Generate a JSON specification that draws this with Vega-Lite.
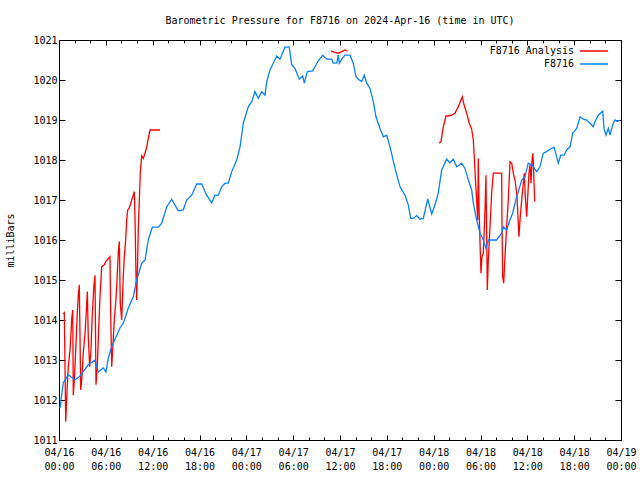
{
  "$schema": "https://vega.github.io/schema/vega-lite/v6.json",
  "autosize": {"type": "none"},
  "padding": {"left": 59, "top": 40, "right": 19, "bottom": 40},
  "width": 562,
  "height": 400,
  "background": "white",
  "title": {
    "text": "Barometric Pressure for F8716 on 2024-Apr-16 (time in UTC)",
    "font": "DejaVu Sans Mono",
    "fontSize": 10,
    "fontWeight": "normal",
    "color": "black",
    "anchor": "middle",
    "offset": 9
  },
  "config": {
    "view": {"stroke": "black", "strokeWidth": 1},
    "axis": {
      "labelFont": "DejaVu Sans Mono",
      "labelFontSize": 10,
      "labelColor": "black",
      "titleFont": "DejaVu Sans Mono",
      "titleFontSize": 10,
      "titleFontWeight": "normal",
      "titleColor": "black",
      "domainColor": "black",
      "tickColor": "black",
      "grid": false
    },
    "legend": {
      "labelFont": "DejaVu Sans Mono",
      "labelFontSize": 10,
      "labelColor": "black"
    }
  },
  "data": {
    "values": [
      {"s":"F8716 Analysis","g":1,"h":0.55,"p":1014.15},
      {"s":"F8716 Analysis","g":1,"h":0.68,"p":1014.18},
      {"s":"F8716 Analysis","g":1,"h":0.77,"p":1012.83},
      {"s":"F8716 Analysis","g":1,"h":0.86,"p":1011.46},
      {"s":"F8716 Analysis","g":1,"h":0.99,"p":1012.08},
      {"s":"F8716 Analysis","g":1,"h":1.19,"p":1012.83},
      {"s":"F8716 Analysis","g":1,"h":1.41,"p":1013.25},
      {"s":"F8716 Analysis","g":1,"h":1.54,"p":1013.67},
      {"s":"F8716 Analysis","g":1,"h":1.63,"p":1014.04},
      {"s":"F8716 Analysis","g":1,"h":1.76,"p":1014.25},
      {"s":"F8716 Analysis","g":1,"h":1.83,"p":1012.12},
      {"s":"F8716 Analysis","g":1,"h":1.96,"p":1012.5},
      {"s":"F8716 Analysis","g":1,"h":2.14,"p":1013.25},
      {"s":"F8716 Analysis","g":1,"h":2.34,"p":1014.17},
      {"s":"F8716 Analysis","g":1,"h":2.47,"p":1014.62},
      {"s":"F8716 Analysis","g":1,"h":2.6,"p":1014.88},
      {"s":"F8716 Analysis","g":1,"h":2.78,"p":1012.25},
      {"s":"F8716 Analysis","g":1,"h":2.91,"p":1012.5},
      {"s":"F8716 Analysis","g":1,"h":3.11,"p":1013.17},
      {"s":"F8716 Analysis","g":1,"h":3.33,"p":1013.67},
      {"s":"F8716 Analysis","g":1,"h":3.46,"p":1014.08},
      {"s":"F8716 Analysis","g":1,"h":3.63,"p":1014.71},
      {"s":"F8716 Analysis","g":1,"h":3.75,"p":1013.58},
      {"s":"F8716 Analysis","g":1,"h":3.93,"p":1012.83},
      {"s":"F8716 Analysis","g":1,"h":4.1,"p":1013.25},
      {"s":"F8716 Analysis","g":1,"h":4.27,"p":1014.17},
      {"s":"F8716 Analysis","g":1,"h":4.48,"p":1014.88},
      {"s":"F8716 Analysis","g":1,"h":4.61,"p":1015.12},
      {"s":"F8716 Analysis","g":1,"h":4.74,"p":1012.38},
      {"s":"F8716 Analysis","g":1,"h":4.91,"p":1012.83},
      {"s":"F8716 Analysis","g":1,"h":5.03,"p":1013.5},
      {"s":"F8716 Analysis","g":1,"h":5.25,"p":1014.58},
      {"s":"F8716 Analysis","g":1,"h":5.47,"p":1015.33},
      {"s":"F8716 Analysis","g":1,"h":5.8,"p":1015.38},
      {"s":"F8716 Analysis","g":1,"h":5.98,"p":1015.46},
      {"s":"F8716 Analysis","g":1,"h":6.53,"p":1015.58},
      {"s":"F8716 Analysis","g":1,"h":6.62,"p":1014.21},
      {"s":"F8716 Analysis","g":1,"h":6.75,"p":1012.83},
      {"s":"F8716 Analysis","g":1,"h":6.88,"p":1013.25},
      {"s":"F8716 Analysis","g":1,"h":7.08,"p":1014.0},
      {"s":"F8716 Analysis","g":1,"h":7.26,"p":1014.42},
      {"s":"F8716 Analysis","g":1,"h":7.39,"p":1014.83},
      {"s":"F8716 Analysis","g":1,"h":7.6,"p":1015.71},
      {"s":"F8716 Analysis","g":1,"h":7.73,"p":1015.96},
      {"s":"F8716 Analysis","g":1,"h":7.85,"p":1014.42},
      {"s":"F8716 Analysis","g":1,"h":8.03,"p":1014.0},
      {"s":"F8716 Analysis","g":1,"h":8.24,"p":1015.12},
      {"s":"F8716 Analysis","g":1,"h":8.37,"p":1015.58},
      {"s":"F8716 Analysis","g":1,"h":8.55,"p":1016.04},
      {"s":"F8716 Analysis","g":1,"h":8.67,"p":1016.5},
      {"s":"F8716 Analysis","g":1,"h":8.8,"p":1016.75},
      {"s":"F8716 Analysis","g":1,"h":8.97,"p":1016.79},
      {"s":"F8716 Analysis","g":1,"h":9.13,"p":1016.88},
      {"s":"F8716 Analysis","g":1,"h":9.31,"p":1017.0},
      {"s":"F8716 Analysis","g":1,"h":9.52,"p":1017.12},
      {"s":"F8716 Analysis","g":1,"h":9.65,"p":1017.21},
      {"s":"F8716 Analysis","g":1,"h":9.74,"p":1016.54},
      {"s":"F8716 Analysis","g":1,"h":9.86,"p":1015.17},
      {"s":"F8716 Analysis","g":1,"h":9.95,"p":1014.5},
      {"s":"F8716 Analysis","g":1,"h":10.08,"p":1015.5},
      {"s":"F8716 Analysis","g":1,"h":10.16,"p":1016.29},
      {"s":"F8716 Analysis","g":1,"h":10.29,"p":1017.0},
      {"s":"F8716 Analysis","g":1,"h":10.42,"p":1017.71},
      {"s":"F8716 Analysis","g":1,"h":10.6,"p":1018.1},
      {"s":"F8716 Analysis","g":1,"h":10.8,"p":1018.04},
      {"s":"F8716 Analysis","g":1,"h":11.02,"p":1018.17},
      {"s":"F8716 Analysis","g":1,"h":11.24,"p":1018.33},
      {"s":"F8716 Analysis","g":1,"h":11.44,"p":1018.54},
      {"s":"F8716 Analysis","g":1,"h":11.66,"p":1018.75},
      {"s":"F8716 Analysis","g":1,"h":12.94,"p":1018.75},
      {"s":"F8716 Analysis","g":2,"h":34.85,"p":1020.72},
      {"s":"F8716 Analysis","g":2,"h":35.36,"p":1020.69},
      {"s":"F8716 Analysis","g":2,"h":35.78,"p":1020.67},
      {"s":"F8716 Analysis","g":2,"h":36.22,"p":1020.71},
      {"s":"F8716 Analysis","g":2,"h":36.64,"p":1020.75},
      {"s":"F8716 Analysis","g":2,"h":36.94,"p":1020.72},
      {"s":"F8716 Analysis","g":3,"h":48.72,"p":1018.42},
      {"s":"F8716 Analysis","g":3,"h":48.94,"p":1018.46},
      {"s":"F8716 Analysis","g":3,"h":49.23,"p":1018.83},
      {"s":"F8716 Analysis","g":3,"h":49.58,"p":1019.1},
      {"s":"F8716 Analysis","g":3,"h":49.87,"p":1019.1},
      {"s":"F8716 Analysis","g":3,"h":50.31,"p":1019.12},
      {"s":"F8716 Analysis","g":3,"h":50.73,"p":1019.17},
      {"s":"F8716 Analysis","g":3,"h":51.16,"p":1019.33},
      {"s":"F8716 Analysis","g":3,"h":51.5,"p":1019.5},
      {"s":"F8716 Analysis","g":3,"h":51.67,"p":1019.58},
      {"s":"F8716 Analysis","g":3,"h":51.89,"p":1019.38},
      {"s":"F8716 Analysis","g":3,"h":52.23,"p":1019.17},
      {"s":"F8716 Analysis","g":3,"h":52.56,"p":1018.92},
      {"s":"F8716 Analysis","g":3,"h":52.87,"p":1018.77},
      {"s":"F8716 Analysis","g":3,"h":53.08,"p":1018.5},
      {"s":"F8716 Analysis","g":3,"h":53.2,"p":1018.08},
      {"s":"F8716 Analysis","g":3,"h":53.38,"p":1017.42},
      {"s":"F8716 Analysis","g":3,"h":53.51,"p":1017.0},
      {"s":"F8716 Analysis","g":3,"h":53.64,"p":1016.5},
      {"s":"F8716 Analysis","g":3,"h":53.72,"p":1018.04},
      {"s":"F8716 Analysis","g":3,"h":53.81,"p":1016.83},
      {"s":"F8716 Analysis","g":3,"h":53.94,"p":1015.92},
      {"s":"F8716 Analysis","g":3,"h":54.06,"p":1015.17},
      {"s":"F8716 Analysis","g":3,"h":54.19,"p":1015.58},
      {"s":"F8716 Analysis","g":3,"h":54.36,"p":1015.67},
      {"s":"F8716 Analysis","g":3,"h":54.58,"p":1016.75},
      {"s":"F8716 Analysis","g":3,"h":54.7,"p":1017.62},
      {"s":"F8716 Analysis","g":3,"h":54.79,"p":1016.17},
      {"s":"F8716 Analysis","g":3,"h":54.87,"p":1014.75},
      {"s":"F8716 Analysis","g":3,"h":55.0,"p":1015.5},
      {"s":"F8716 Analysis","g":3,"h":55.22,"p":1016.33},
      {"s":"F8716 Analysis","g":3,"h":55.43,"p":1017.17},
      {"s":"F8716 Analysis","g":3,"h":55.64,"p":1017.67},
      {"s":"F8716 Analysis","g":3,"h":56.71,"p":1017.67},
      {"s":"F8716 Analysis","g":3,"h":56.75,"p":1016.46},
      {"s":"F8716 Analysis","g":3,"h":56.84,"p":1015.08},
      {"s":"F8716 Analysis","g":3,"h":56.97,"p":1014.92},
      {"s":"F8716 Analysis","g":3,"h":57.14,"p":1015.58},
      {"s":"F8716 Analysis","g":3,"h":57.35,"p":1016.33},
      {"s":"F8716 Analysis","g":3,"h":57.56,"p":1017.0},
      {"s":"F8716 Analysis","g":3,"h":57.78,"p":1017.96},
      {"s":"F8716 Analysis","g":3,"h":58.0,"p":1017.92},
      {"s":"F8716 Analysis","g":3,"h":58.2,"p":1017.67},
      {"s":"F8716 Analysis","g":3,"h":58.42,"p":1017.5},
      {"s":"F8716 Analysis","g":3,"h":58.64,"p":1017.17},
      {"s":"F8716 Analysis","g":3,"h":58.76,"p":1016.75},
      {"s":"F8716 Analysis","g":3,"h":58.93,"p":1016.08},
      {"s":"F8716 Analysis","g":3,"h":59.06,"p":1016.5},
      {"s":"F8716 Analysis","g":3,"h":59.28,"p":1017.0},
      {"s":"F8716 Analysis","g":3,"h":59.48,"p":1017.42},
      {"s":"F8716 Analysis","g":3,"h":59.61,"p":1017.67},
      {"s":"F8716 Analysis","g":3,"h":59.74,"p":1017.08},
      {"s":"F8716 Analysis","g":3,"h":59.92,"p":1016.58},
      {"s":"F8716 Analysis","g":3,"h":60.05,"p":1017.08},
      {"s":"F8716 Analysis","g":3,"h":60.21,"p":1017.67},
      {"s":"F8716 Analysis","g":3,"h":60.34,"p":1017.88},
      {"s":"F8716 Analysis","g":3,"h":60.47,"p":1017.42},
      {"s":"F8716 Analysis","g":3,"h":60.6,"p":1018.0},
      {"s":"F8716 Analysis","g":3,"h":60.72,"p":1018.17},
      {"s":"F8716 Analysis","g":3,"h":60.85,"p":1017.5},
      {"s":"F8716 Analysis","g":3,"h":60.94,"p":1016.96},
      {"s":"F8716","g":0,"h":0.13,"p":1011.8},
      {"s":"F8716","g":0,"h":0.55,"p":1012.43},
      {"s":"F8716","g":0,"h":1.19,"p":1012.63},
      {"s":"F8716","g":0,"h":2.05,"p":1012.5},
      {"s":"F8716","g":0,"h":2.69,"p":1012.6},
      {"s":"F8716","g":0,"h":3.75,"p":1012.88},
      {"s":"F8716","g":0,"h":4.61,"p":1013.0},
      {"s":"F8716","g":0,"h":5.03,"p":1012.7},
      {"s":"F8716","g":0,"h":5.68,"p":1012.8},
      {"s":"F8716","g":0,"h":6.02,"p":1012.7},
      {"s":"F8716","g":0,"h":6.32,"p":1013.05},
      {"s":"F8716","g":0,"h":6.75,"p":1013.33},
      {"s":"F8716","g":0,"h":7.81,"p":1013.8},
      {"s":"F8716","g":0,"h":8.24,"p":1013.92},
      {"s":"F8716","g":0,"h":8.88,"p":1014.3},
      {"s":"F8716","g":0,"h":9.52,"p":1014.58},
      {"s":"F8716","g":0,"h":9.95,"p":1015.0},
      {"s":"F8716","g":0,"h":10.6,"p":1015.42},
      {"s":"F8716","g":0,"h":11.02,"p":1015.5},
      {"s":"F8716","g":0,"h":11.44,"p":1016.0},
      {"s":"F8716","g":0,"h":11.95,"p":1016.32},
      {"s":"F8716","g":0,"h":12.72,"p":1016.32},
      {"s":"F8716","g":0,"h":13.16,"p":1016.42},
      {"s":"F8716","g":0,"h":13.8,"p":1016.83},
      {"s":"F8716","g":0,"h":14.44,"p":1017.02},
      {"s":"F8716","g":0,"h":14.86,"p":1016.87},
      {"s":"F8716","g":0,"h":15.28,"p":1016.73},
      {"s":"F8716","g":0,"h":15.92,"p":1016.75},
      {"s":"F8716","g":0,"h":16.36,"p":1017.0},
      {"s":"F8716","g":0,"h":17.0,"p":1017.12},
      {"s":"F8716","g":0,"h":17.64,"p":1017.4},
      {"s":"F8716","g":0,"h":18.28,"p":1017.4},
      {"s":"F8716","g":0,"h":18.92,"p":1017.12},
      {"s":"F8716","g":0,"h":19.56,"p":1016.93},
      {"s":"F8716","g":0,"h":19.99,"p":1017.12},
      {"s":"F8716","g":0,"h":20.41,"p":1017.12},
      {"s":"F8716","g":0,"h":20.84,"p":1017.33},
      {"s":"F8716","g":0,"h":21.27,"p":1017.42},
      {"s":"F8716","g":0,"h":21.69,"p":1017.42},
      {"s":"F8716","g":0,"h":22.13,"p":1017.71},
      {"s":"F8716","g":0,"h":22.77,"p":1018.0},
      {"s":"F8716","g":0,"h":23.19,"p":1018.33},
      {"s":"F8716","g":0,"h":23.61,"p":1018.92},
      {"s":"F8716","g":0,"h":24.25,"p":1019.33},
      {"s":"F8716","g":0,"h":24.69,"p":1019.46},
      {"s":"F8716","g":0,"h":25.11,"p":1019.71},
      {"s":"F8716","g":0,"h":25.53,"p":1019.54},
      {"s":"F8716","g":0,"h":25.97,"p":1019.71},
      {"s":"F8716","g":0,"h":26.39,"p":1019.62},
      {"s":"F8716","g":0,"h":26.61,"p":1019.96},
      {"s":"F8716","g":0,"h":27.03,"p":1020.25},
      {"s":"F8716","g":0,"h":27.45,"p":1020.42},
      {"s":"F8716","g":0,"h":27.89,"p":1020.6},
      {"s":"F8716","g":0,"h":28.31,"p":1020.52},
      {"s":"F8716","g":0,"h":28.95,"p":1020.82},
      {"s":"F8716","g":0,"h":29.5,"p":1020.82},
      {"s":"F8716","g":0,"h":29.81,"p":1020.38},
      {"s":"F8716","g":0,"h":30.23,"p":1020.29},
      {"s":"F8716","g":0,"h":30.79,"p":1020.02},
      {"s":"F8716","g":0,"h":31.22,"p":1020.1},
      {"s":"F8716","g":0,"h":31.43,"p":1019.92},
      {"s":"F8716","g":0,"h":31.81,"p":1020.21},
      {"s":"F8716","g":0,"h":32.5,"p":1020.23},
      {"s":"F8716","g":0,"h":33.22,"p":1020.48},
      {"s":"F8716","g":0,"h":33.78,"p":1020.62},
      {"s":"F8716","g":0,"h":34.3,"p":1020.52},
      {"s":"F8716","g":0,"h":34.94,"p":1020.52},
      {"s":"F8716","g":0,"h":35.14,"p":1020.42},
      {"s":"F8716","g":0,"h":35.58,"p":1020.42},
      {"s":"F8716","g":0,"h":35.78,"p":1020.62},
      {"s":"F8716","g":0,"h":35.91,"p":1020.42},
      {"s":"F8716","g":0,"h":36.22,"p":1020.52},
      {"s":"F8716","g":0,"h":36.64,"p":1020.62},
      {"s":"F8716","g":0,"h":37.28,"p":1020.62},
      {"s":"F8716","g":0,"h":37.7,"p":1020.42},
      {"s":"F8716","g":0,"h":38.05,"p":1020.08},
      {"s":"F8716","g":0,"h":38.34,"p":1020.02},
      {"s":"F8716","g":0,"h":38.78,"p":1019.96},
      {"s":"F8716","g":0,"h":39.11,"p":1020.12},
      {"s":"F8716","g":0,"h":39.42,"p":1019.92},
      {"s":"F8716","g":0,"h":39.84,"p":1019.79},
      {"s":"F8716","g":0,"h":40.27,"p":1019.46},
      {"s":"F8716","g":0,"h":40.61,"p":1019.08},
      {"s":"F8716","g":0,"h":41.12,"p":1018.79},
      {"s":"F8716","g":0,"h":41.55,"p":1018.58},
      {"s":"F8716","g":0,"h":41.98,"p":1018.62},
      {"s":"F8716","g":0,"h":42.41,"p":1018.33},
      {"s":"F8716","g":0,"h":43.05,"p":1017.79},
      {"s":"F8716","g":0,"h":43.69,"p":1017.33},
      {"s":"F8716","g":0,"h":44.33,"p":1017.12},
      {"s":"F8716","g":0,"h":44.75,"p":1016.88},
      {"s":"F8716","g":0,"h":45.06,"p":1016.54},
      {"s":"F8716","g":0,"h":45.39,"p":1016.54},
      {"s":"F8716","g":0,"h":45.83,"p":1016.61},
      {"s":"F8716","g":0,"h":46.25,"p":1016.52},
      {"s":"F8716","g":0,"h":46.67,"p":1016.54},
      {"s":"F8716","g":0,"h":47.24,"p":1017.02},
      {"s":"F8716","g":0,"h":47.75,"p":1016.65},
      {"s":"F8716","g":0,"h":48.17,"p":1016.88},
      {"s":"F8716","g":0,"h":48.59,"p":1017.17},
      {"s":"F8716","g":0,"h":49.03,"p":1017.75},
      {"s":"F8716","g":0,"h":49.67,"p":1018.02},
      {"s":"F8716","g":0,"h":50.09,"p":1017.93},
      {"s":"F8716","g":0,"h":50.51,"p":1018.02},
      {"s":"F8716","g":0,"h":50.95,"p":1017.83},
      {"s":"F8716","g":0,"h":51.59,"p":1017.92},
      {"s":"F8716","g":0,"h":52.01,"p":1017.79},
      {"s":"F8716","g":0,"h":52.44,"p":1017.5},
      {"s":"F8716","g":0,"h":52.87,"p":1017.25},
      {"s":"F8716","g":0,"h":53.08,"p":1016.92},
      {"s":"F8716","g":0,"h":53.51,"p":1016.5},
      {"s":"F8716","g":0,"h":53.94,"p":1016.17},
      {"s":"F8716","g":0,"h":54.36,"p":1016.0},
      {"s":"F8716","g":0,"h":54.7,"p":1015.79},
      {"s":"F8716","g":0,"h":55.0,"p":1016.0},
      {"s":"F8716","g":0,"h":55.43,"p":1016.0},
      {"s":"F8716","g":0,"h":56.07,"p":1016.0},
      {"s":"F8716","g":0,"h":56.37,"p":1016.08},
      {"s":"F8716","g":0,"h":56.71,"p":1016.17},
      {"s":"F8716","g":0,"h":56.92,"p":1016.33},
      {"s":"F8716","g":0,"h":57.35,"p":1016.25},
      {"s":"F8716","g":0,"h":57.69,"p":1016.46},
      {"s":"F8716","g":0,"h":58.12,"p":1016.67},
      {"s":"F8716","g":0,"h":58.55,"p":1017.02},
      {"s":"F8716","g":0,"h":58.97,"p":1017.29},
      {"s":"F8716","g":0,"h":59.28,"p":1017.5},
      {"s":"F8716","g":0,"h":59.7,"p":1017.58},
      {"s":"F8716","g":0,"h":60.12,"p":1017.92},
      {"s":"F8716","g":0,"h":60.56,"p":1017.88},
      {"s":"F8716","g":0,"h":61.2,"p":1017.71},
      {"s":"F8716","g":0,"h":61.62,"p":1017.83},
      {"s":"F8716","g":0,"h":62.04,"p":1018.17},
      {"s":"F8716","g":0,"h":62.48,"p":1018.21},
      {"s":"F8716","g":0,"h":62.9,"p":1018.27},
      {"s":"F8716","g":0,"h":63.42,"p":1018.32},
      {"s":"F8716","g":0,"h":63.76,"p":1018.08},
      {"s":"F8716","g":0,"h":63.97,"p":1017.92},
      {"s":"F8716","g":0,"h":64.27,"p":1018.12},
      {"s":"F8716","g":0,"h":64.7,"p":1018.12},
      {"s":"F8716","g":0,"h":65.04,"p":1018.25},
      {"s":"F8716","g":0,"h":65.47,"p":1018.33},
      {"s":"F8716","g":0,"h":65.81,"p":1018.67},
      {"s":"F8716","g":0,"h":66.32,"p":1018.79},
      {"s":"F8716","g":0,"h":66.75,"p":1019.08},
      {"s":"F8716","g":0,"h":67.17,"p":1019.02},
      {"s":"F8716","g":0,"h":67.61,"p":1019.0},
      {"s":"F8716","g":0,"h":68.03,"p":1018.92},
      {"s":"F8716","g":0,"h":68.45,"p":1018.83},
      {"s":"F8716","g":0,"h":68.67,"p":1018.96},
      {"s":"F8716","g":0,"h":69.09,"p":1019.12},
      {"s":"F8716","g":0,"h":69.66,"p":1019.22},
      {"s":"F8716","g":0,"h":69.82,"p":1018.79},
      {"s":"F8716","g":0,"h":70.08,"p":1018.62},
      {"s":"F8716","g":0,"h":70.37,"p":1018.79},
      {"s":"F8716","g":0,"h":70.59,"p":1018.62},
      {"s":"F8716","g":0,"h":70.94,"p":1018.88},
      {"s":"F8716","g":0,"h":71.23,"p":1019.0},
      {"s":"F8716","g":0,"h":71.52,"p":1018.96},
      {"s":"F8716","g":0,"h":71.87,"p":1019.0}
    ]
  },
  "layer": [
    {
      "transform": [{"filter": "datum.s === 'F8716 Analysis'"}],
      "mark": {"type": "line", "strokeWidth": 1.3, "clip": true},
      "encoding": {
        "x": {
          "field": "h", "type": "quantitative",
          "scale": {"domain": [0, 72], "nice": false, "zero": false},
          "axis": {
            "orient": "bottom",
            "title": null,
            "values": [0,2,4,6,8,10,12,14,16,18,20,22,24,26,28,30,32,34,36,38,40,42,44,46,48,50,52,54,56,58,60,62,64,66,68,70,72],
            "labelExpr": "datum.value % 6 === 0 ? ['04/' + format(16 + floor(datum.value / 24), '02d'), format(datum.value % 24, '02d') + ':00'] : ''",
            "labelFlush": false,
            "labelBound": false,
            "labelOverlap": false,
            "labelPadding": 12,
            "labelLineHeight": 14,
            "tickSize": {"condition": {"test": "datum.value % 6 === 0", "value": -5}, "value": -3}
          }
        },
        "y": {
          "field": "p", "type": "quantitative",
          "scale": {"domain": [1011, 1021], "nice": false, "zero": false},
          "axis": {
            "orient": "left",
            "title": "milliBars",
            "values": [1011,1012,1013,1014,1015,1016,1017,1018,1019,1020,1021],
            "format": "d",
            "tickSize": -6,
            "labelPadding": 8,
            "titlePadding": 17
          }
        },
        "color": {
          "field": "s", "type": "nominal",
          "scale": {"domain": ["F8716 Analysis", "F8716"], "range": ["#ff0000", "#0a80ff"]},
          "legend": {
            "title": null,
            "orient": "none",
            "legendX": 528,
            "legendY": 4,
            "symbolType": "M-2.33,0H2.33",
            "symbolSize": 144,
            "symbolStrokeWidth": 1.5,
            "labelAlign": "right",
            "labelOffset": -27,
            "rowPadding": 1,
            "padding": 0
          }
        },
        "detail": {"field": "g", "type": "nominal"}
      }
    },
    {
      "transform": [{"filter": "datum.s === 'F8716'"}],
      "mark": {"type": "line", "strokeWidth": 1.3, "clip": true},
      "encoding": {
        "x": {
          "field": "h", "type": "quantitative",
          "axis": {
            "orient": "top",
            "title": null,
            "labels": false,
            "values": [0,2,4,6,8,10,12,14,16,18,20,22,24,26,28,30,32,34,36,38,40,42,44,46,48,50,52,54,56,58,60,62,64,66,68,70,72],
            "tickSize": {"condition": {"test": "datum.value % 6 === 0", "value": -5}, "value": -3}
          }
        },
        "y": {
          "field": "p", "type": "quantitative",
          "axis": {
            "orient": "right",
            "title": null,
            "labels": false,
            "values": [1011,1012,1013,1014,1015,1016,1017,1018,1019,1020,1021],
            "tickSize": -6
          }
        },
        "color": {
          "field": "s", "type": "nominal",
          "scale": {"domain": ["F8716 Analysis", "F8716"], "range": ["#ff0000", "#0a80ff"]},
          "legend": {
            "title": null,
            "orient": "none",
            "legendX": 528,
            "legendY": 4,
            "symbolType": "M-2.33,0H2.33",
            "symbolSize": 144,
            "symbolStrokeWidth": 1.5,
            "labelAlign": "right",
            "labelOffset": -27,
            "rowPadding": 1,
            "padding": 0
          }
        },
        "detail": {"field": "g", "type": "nominal"}
      }
    }
  ],
  "resolve": {"axis": {"x": "independent", "y": "independent"}}
}
